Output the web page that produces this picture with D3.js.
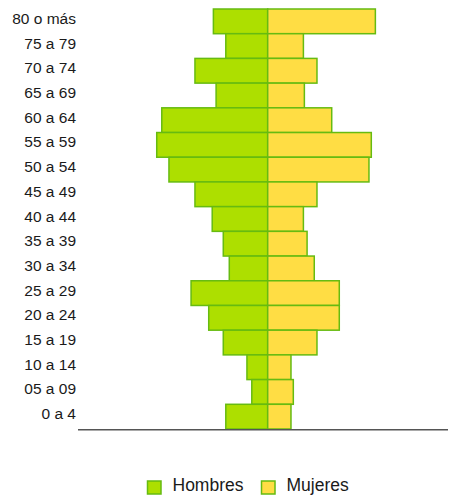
<!DOCTYPE html>
<html>
<head>
<meta charset="utf-8">
<script src="https://cdn.jsdelivr.net/npm/d3@7"></script>
<style>
  body { margin: 0; background: #fff; }
  text { font-family: "Liberation Sans", Arial, sans-serif; fill: #1a1a1a; }
</style>
</head>
<body>
<div id="chart"></div>
<script>
var svgWidth = 451;
var svgHeight = 496;

// age groups, top to bottom
var groups = ["80 o más", "75 a 79", "70 a 74", "65 a 69", "60 a 64", "55 a 59",
  "50 a 54", "45 a 49", "40 a 44", "35 a 39", "30 a 34", "25 a 29",
  "20 a 24", "15 a 19", "10 a 14", "05 a 09", "0 a 4"];

// % of population
var hombres = [2.80, 2.16, 3.75, 2.66, 5.46, 5.72, 5.09, 3.75, 2.86, 2.29, 1.98,
  3.95, 3.04, 2.29, 1.07, 0.82, 2.16];
var mujeres = [5.55, 1.84, 2.54, 1.89, 3.30, 5.34, 5.22, 2.54, 1.84, 2.03, 2.40,
  3.69, 3.69, 2.54, 1.20, 1.32, 1.20];

var seriesNames = ["Hombres", "Mujeres"];
var colors = ["#addf00", "#ffdd44"];
var strokeColor = "#66bb11";

var margin = { top: 9, bottom: 67, left: 78 };

var svg = d3.select("#chart")
  .append("svg")
  .attr("width", svgWidth)
  .attr("height", svgHeight);

var x = d3.scaleLinear()
  .domain([-10, 10])
  .range([73.7, 461.7]);

var y = d3.scaleBand()
  .domain(groups)
  .range([margin.top, svgHeight - margin.bottom])
  .paddingInner(0);

var data = groups.map(function(g, i) {
  return { group: g, h: hombres[i], m: mujeres[i] };
});

// hombres on the left
svg.selectAll(".bar-h")
  .data(data)
  .enter()
  .append("rect")
  .attr("class", "bar-h")
  .attr("x", d => x(-d.h))
  .attr("y", d => y(d.group))
  .attr("width", d => x(0) - x(-d.h))
  .attr("height", y.bandwidth())
  .attr("fill", colors[0])
  .attr("stroke", strokeColor)
  .attr("stroke-width", 1.5);

// mujeres on the right
svg.selectAll(".bar-m")
  .data(data)
  .enter()
  .append("rect")
  .attr("class", "bar-m")
  .attr("x", x(0))
  .attr("y", d => y(d.group))
  .attr("width", d => x(d.m) - x(0))
  .attr("height", y.bandwidth())
  .attr("fill", colors[1])
  .attr("stroke", strokeColor)
  .attr("stroke-width", 1.5);

// age labels
svg.selectAll(".age-label")
  .data(groups)
  .enter()
  .append("text")
  .attr("class", "age-label")
  .attr("x", margin.left - 2)
  .attr("y", d => y(d) + y.bandwidth() / 2 + 2.5)
  .attr("text-anchor", "end")
  .attr("font-size", "15.5px")
  .text(d => d);

// baseline
svg.append("line")
  .attr("x1", margin.left)
  .attr("x2", svgWidth - 3)
  .attr("y1", y.range()[1] + 0.8)
  .attr("y2", y.range()[1] + 0.8)
  .attr("stroke", "#555")
  .attr("stroke-width", 1.6);

// legend
var legendX = [147.5, 261.5];
var legend = svg.selectAll(".legend")
  .data(seriesNames)
  .enter()
  .append("g")
  .attr("class", "legend")
  .attr("transform", (d, i) => `translate(${legendX[i]}, 481)`);

legend.append("rect")
  .attr("width", 13.5)
  .attr("height", 13)
  .attr("fill", (d, i) => colors[i])
  .attr("stroke", strokeColor)
  .attr("stroke-width", 1.5);

legend.append("text")
  .attr("x", 25)
  .attr("y", 9.5)
  .attr("font-size", "17.5px")
  .text(d => d);
</script>
</body>
</html>
